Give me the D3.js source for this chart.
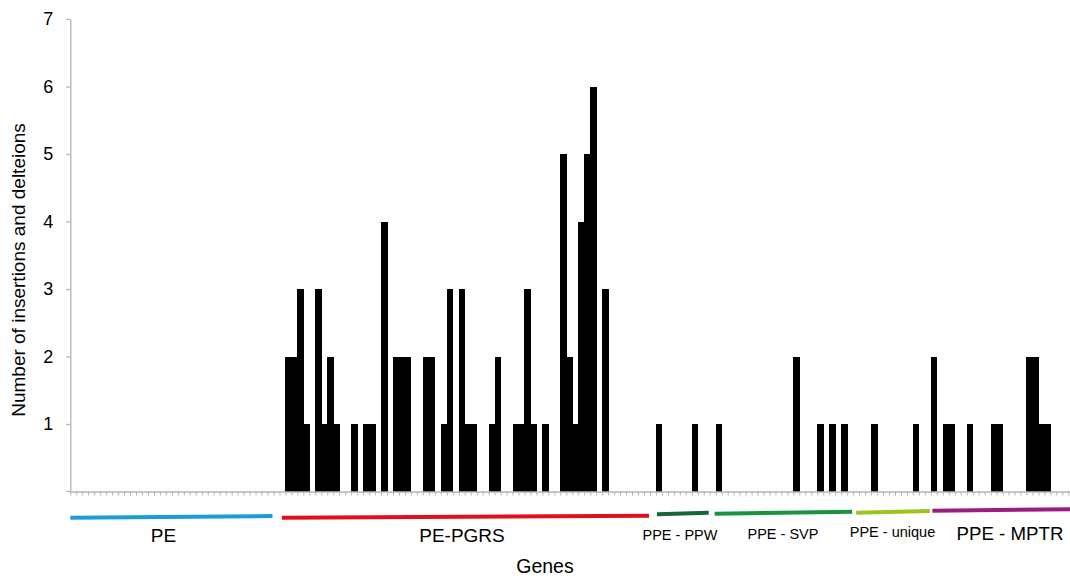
<!DOCTYPE html>
<html>
<head>
<meta charset="utf-8">
<script src="https://cdn.jsdelivr.net/npm/d3@7"></script>
<style>
  body { margin: 0; background: #fff; }
  svg { display: block; }
</style>
</head>
<body>
<svg id="chart" width="1070" height="576"></svg>
<script>
// gene positions along the x axis (1..168)
const genes = d3.range(1, 169);

// number of insertions and deletions per gene, in axis order
const counts = [
  0, 0, 0, 0, 0, 0, 0, 0, 0, 0, 0, 0, 0, 0, 0, 0, 0, 0, 0, 0,
  0, 0, 0, 0, 0, 0, 0, 0, 0, 0, 0, 0, 0, 0, 0, 0, 2, 2, 3, 1,
  0, 3, 1, 2, 1, 0, 0, 1, 0, 1, 1, 0, 4, 0, 2, 2, 2, 0, 0, 2,
  2, 0, 1, 3, 0, 3, 1, 1, 0, 0, 1, 2, 0, 0, 1, 1, 3, 1, 0, 1,
  0, 0, 5, 2, 1, 4, 5, 6, 0, 3, 0, 0, 0, 0, 0, 0, 0, 0, 1, 0,
  0, 0, 0, 0, 1, 0, 0, 0, 1, 0, 0, 0, 0, 0, 0, 0, 0, 0, 0, 0,
  0, 2, 0, 0, 0, 1, 0, 1, 0, 1, 0, 0, 0, 0, 1, 0, 0, 0, 0, 0,
  0, 1, 0, 0, 2, 0, 1, 1, 0, 0, 1, 0, 0, 0, 1, 1, 0, 0, 0, 0,
  2, 2, 1, 1, 0, 0, 0, 0
];

// gene families and the gene range (first, last) each covers
const families = ["PE", "PE-PGRS", "PPE - PPW", "PPE - SVP", "PPE - unique", "PPE - MPTR"];
const familyStart = [1, 36, 99, 108, 132, 145];
const familyEnd = [34, 97, 107, 131, 144, 168];
const familyColors = ["#1b9bd7", "#e20e1d", "#17663a", "#18933f", "#9bc420", "#9a1d7f"];

const yTicks = [1, 2, 3, 4, 5, 6, 7];

let svg = d3.select("#chart");

let x0 = 70.3;
let step = 5.976;
let yBottom = 491.5;
let yTop = 19;

let xScale = d3.scaleBand()
  .domain(genes)
  .range([x0, x0 + genes.length * step])
  .padding(0);

let xLinear = d3.scaleLinear()
  .domain([0, genes.length])
  .range([x0, x0 + genes.length * step]);

let yScale = d3.scaleLinear()
  .domain([0, 7])
  .range([yBottom, yTop]);

// bars
svg.append("g").attr("id", "bars")
  .attr("shape-rendering", "crispEdges")
  .selectAll("rect")
  .data(genes.map((g, i) => ({gene: g, value: counts[i]})).filter(d => d.value > 0))
  .join("rect")
  .attr("x", d => xScale(d.gene))
  .attr("width", xScale.bandwidth() + 0.5)
  .attr("y", d => yScale(d.value))
  .attr("height", d => yBottom - yScale(d.value))
  .attr("fill", "#000");

let axisColor = "#b4b4b4";

// x axis: a small tick at every gene boundary
let xAxis = d3.axisBottom(xLinear)
  .tickValues(d3.range(0, genes.length + 1))
  .tickSize(4)
  .tickSizeOuter(0)
  .tickFormat("");
let xGroup = svg.append("g").attr("id", "x-axis")
  .attr("transform", "translate(0," + yBottom + ")")
  .call(xAxis);
xGroup.select(".domain").attr("stroke", axisColor).attr("stroke-width", 1.3);
xGroup.selectAll(".tick line").attr("stroke", axisColor).attr("stroke-width", 1);
xGroup.append("line")
  .attr("x1", x0 - 4).attr("x2", x0)
  .attr("stroke", axisColor).attr("stroke-width", 1.3);

// y axis
let yAxis = d3.axisLeft(yScale)
  .tickValues(yTicks)
  .tickSize(4)
  .tickSizeOuter(0)
  .tickPadding(13)
  .tickFormat(d3.format("d"));
let yGroup = svg.append("g").attr("id", "y-axis")
  .attr("transform", "translate(" + x0 + ",0)")
  .call(yAxis);
yGroup.select(".domain").attr("stroke", axisColor).attr("stroke-width", 1.3);
yGroup.selectAll(".tick line").attr("stroke", axisColor).attr("stroke-width", 1.3);
yGroup.selectAll(".tick text")
  .style("font-family", "'Liberation Sans', Arial, sans-serif")
  .style("font-size", "18px")
  .attr("fill", "#000");

// family brackets under the axis
let startShift = [0, 2.5, 1, 5, 3, 1.6];
let bracketY1 = [517.7, 517.7, 514.3, 513.7, 512.7, 510.7];
let bracketY2 = [516.0, 515.7, 512.7, 511.7, 511.0, 509.3];
let labelX = [163.5, 462, 680, 783, 892.5, 1010];
let labelY = [542, 542, 540, 538.5, 536.5, 540];
let labelSize = [19, 19, 14.5, 14.5, 14.5, 18.7];

let fam = svg.append("g").attr("id", "families");
families.forEach((name, i) => {
  let xa = xScale(familyStart[i]) + startShift[i];
  let xb = xScale(familyEnd[i]) + xScale.bandwidth() - 1;
  fam.append("line")
    .attr("x1", xa).attr("x2", xb)
    .attr("y1", bracketY1[i]).attr("y2", bracketY2[i])
    .attr("stroke", familyColors[i])
    .attr("stroke-width", 4);
  fam.append("text")
    .text(name)
    .attr("x", labelX[i])
    .attr("y", labelY[i])
    .attr("text-anchor", "middle")
    .style("font-family", "'Liberation Sans', Arial, sans-serif")
    .style("font-size", labelSize[i] + "px")
    .style("fill", "#000");
});

// axis titles
svg.append("text")
  .text("Genes")
  .attr("x", 545)
  .attr("y", 573)
  .attr("text-anchor", "middle")
  .style("font-family", "'Liberation Sans', Arial, sans-serif")
  .style("font-size", "19.5px")
  .style("fill", "#000");

svg.append("text")
  .text("Number of insertions and delteions")
  .attr("transform", "translate(25,270) rotate(-90)")
  .attr("text-anchor", "middle")
  .style("font-family", "'Liberation Sans', Arial, sans-serif")
  .style("font-size", "19px")
  .style("fill", "#000");
</script>
</body>
</html>
